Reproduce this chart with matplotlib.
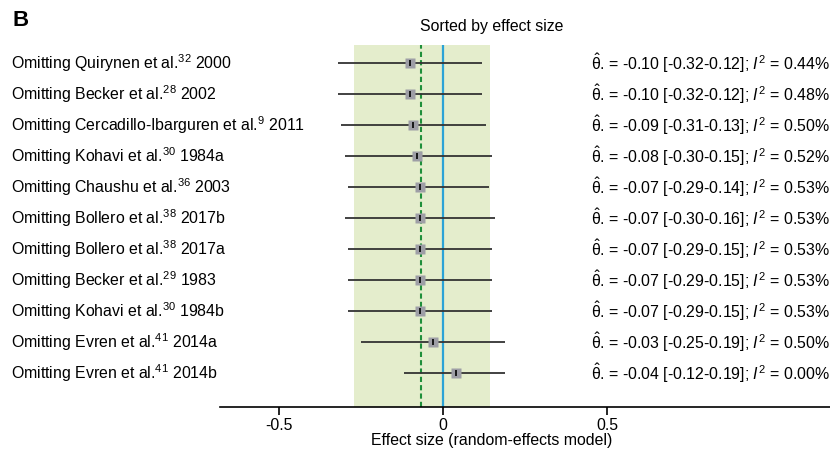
import numpy as np
import matplotlib.pyplot as plt
import matplotlib.transforms as mtransforms

plt.rcParams['font.family'] = ['Liberation Sans', 'DejaVu Sans']
plt.rcParams['mathtext.fontset'] = 'custom'
plt.rcParams['mathtext.rm'] = 'Liberation Sans'
plt.rcParams['mathtext.it'] = 'Liberation Sans:italic'

# --- datos ---
autores = ['Quirynen', 'Becker', 'Cercadillo-Ibarguren', 'Kohavi', 'Chaushu',
           'Bollero', 'Bollero', 'Becker', 'Kohavi', 'Evren', 'Evren']
refs = ['32', '28', '9', '30', '36', '38', '38', '29', '30', '41', '41']
anios = ['2000', '2002', '2011', '1984a', '2003', '2017b', '2017a', '1983',
         '1984b', '2014a', '2014b']
est = [-0.10, -0.10, -0.09, -0.08, -0.07, -0.07, -0.07, -0.07, -0.07, -0.03, 0.04]
lo = [-0.32, -0.32, -0.31, -0.30, -0.29, -0.30, -0.29, -0.29, -0.29, -0.25, -0.12]
hi = [0.12, 0.12, 0.13, 0.15, 0.14, 0.16, 0.15, 0.15, 0.15, 0.19, 0.19]
est_txt = ['-0.10', '-0.10', '-0.09', '-0.08', '-0.07', '-0.07', '-0.07', '-0.07',
           '-0.07', '-0.03', '-0.04']
i2 = ['0.44', '0.48', '0.50', '0.52', '0.53', '0.53', '0.53', '0.53', '0.53',
      '0.50', '0.00']
pooled = -0.067
pooled_lo, pooled_hi = -0.271, 0.143

FS = 11.4

fig = plt.figure(figsize=(8.3, 4.53), dpi=100)
ax = fig.add_axes([220 / 830, 1 - 407 / 453, 1 - 220 / 830, (407 - 45) / 453])

n = len(est)
y = -np.arange(n)

ax.axvspan(pooled_lo, pooled_hi, color='#e4edcc', zorder=0, lw=0)
ax.axvline(0, color='#2ba3d6', lw=1.6, zorder=2)
ax.axvline(pooled, color='#1f8f3a', lw=1.5, ls=(0, (2.5, 1.5)), zorder=2)

ax.hlines(y, lo, hi, color='#333333', lw=1.3, zorder=3)
ax.plot(est, y, 's', ms=7, color='#9e9ea6', mec='none', zorder=4)
ax.plot(est, y, '|', ms=5, color='black', mew=1.2, zorder=5)

ax.set_xlim(-0.68, 1.18)
ax.set_ylim(-(n - 1) - 34 / 31, 18 / 31)
ax.set_xticks([-0.5, 0, 0.5])
ax.set_xticklabels(['-0.5', '0', '0.5'], fontsize=FS)
ax.set_yticks([])
for s in ['top', 'right', 'left']:
    ax.spines[s].set_visible(False)
ax.spines['bottom'].set_linewidth(1.2)
ax.tick_params(axis='x', direction='out', length=6, width=1.2, pad=2)
ax.set_xlabel('Effect size (random-effects model)', fontsize=FS, labelpad=0,
              x=(492 - 220) / 610)

fig.text(492 / 830, 1 - 26 / 453, 'Sorted by effect size', ha='center',
         va='center', fontsize=FS)

trans = mtransforms.blended_transform_factory(fig.transFigure, ax.transData)
for k in range(n):
    etiqueta = 'Omitting %s et al.$^{%s}$ %s' % (autores[k], refs[k], anios[k])
    ax.text(11 / 830, y[k], etiqueta, transform=trans, ha='left', va='center',
            fontsize=FS)
    derecha = r'$\hat{\mathrm{\theta}}$. = %s [%s-%.2f]; $I^2$ = %s%%' % (
        est_txt[k], '%.2f' % lo[k], hi[k], i2[k])
    ax.text(591 / 830, y[k], derecha, transform=trans, ha='left', va='center',
            fontsize=FS)

fig.text(12 / 830, 1 - 21 / 453, 'B', fontsize=16, fontweight='bold',
         ha='left', va='center')

fig.savefig('out.png', dpi=100)
